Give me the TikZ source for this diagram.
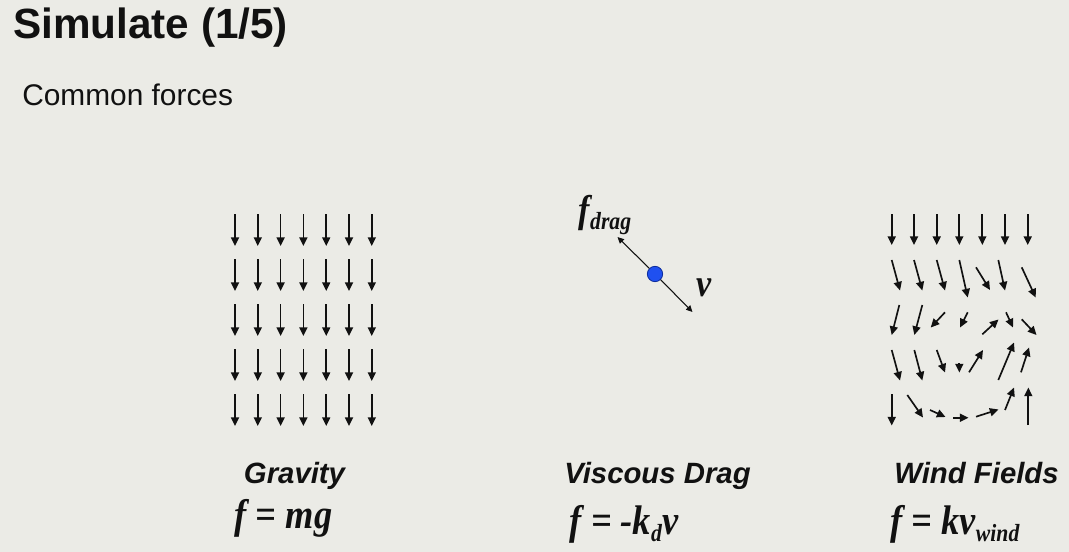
\documentclass[tikz,border=0pt]{standalone}
\usepackage{fontspec}
\setmainfont{Liberation Sans}
\newfontfamily\formulafont[FakeStretch=0.88]{Liberation Serif}
\usepackage{tikz}
\usetikzlibrary{
  arrows.meta,
  positioning
}
\definecolor{slideBg}{HTML}{EBEBE6}
\definecolor{slideInk}{HTML}{111111}
\definecolor{dragBlue}{HTML}{1F50F0}
\definecolor{dragRim}{HTML}{0D2D9C}

% lowered subscript, as on the slide
\newcommand{\lowsub}[1]{\raisebox{-5.5pt}{\fontsize{18.5}{18.5}\selectfont #1}}

\begin{document}
\begin{tikzpicture}[
  x=0.75pt, y=-0.75pt,
  heading/.style={
    font=\bfseries\fontsize{31.7}{36}\selectfont,
    text=slideInk,
    inner sep=0pt,
    anchor=base west
  },
  subheading/.style={heading, font=\fontsize{22.4}{26}\selectfont},
  caption/.style={
    font=\bfseries\itshape\fontsize{22}{26}\selectfont,
    text=slideInk,
    inner sep=0pt,
    anchor=base
  },
  formula/.style={caption, font=\formulafont\bfseries\itshape\fontsize{31}{34}\selectfont},
  vec/.style={
    -{Triangle[length=6.5pt,width=6pt]},
    line width=1.25pt,
    draw=slideInk
  },
  thinvec/.style={vec, -{Triangle[length=4.8pt,width=4.5pt]}, line width=0.8pt},
  particle/.style={
    circle,
    draw=dragRim,
    fill=dragBlue,
    line width=0.6pt,
    minimum size=11.5pt,
    inner sep=0pt
  }
]

\fill[slideBg] (0,0) rectangle (1069,552);

\node[heading] (title) at (13,39) {Simulate (1/5)};
\node[subheading] (intro) at (22,106) {Common forces};

% gravity: uniform field
\foreach \i in {0,...,6}
  \foreach \j in {0,...,4}
    \draw[vec] ({235+22.8*\i},{214+45*\j}) -- ++(0,32);

% viscous drag
\node[particle] (ball) at (655,274) {};
\coordinate (dragtip) at (617.5,237);
\coordinate (veltip) at (692.5,312);
\draw[thinvec] (ball) -- (dragtip);
\draw[thinvec] (ball) -- (veltip);
\node[formula, font=\formulafont\bfseries\itshape\fontsize{29}{32}\selectfont] (fdrag) at (605,222) {f\lowsub{drag}};
\node[formula, font=\formulafont\bfseries\itshape\fontsize{29}{32}\selectfont] (vel) at (704,296) {v};

% wind field
\foreach \a/\b/\c/\d in {
  891.7/214/891.7/245, 914/214/914/245, 936.7/214/936.7/245,
  959.3/214/959.3/245, 982.3/214/982.3/245, 1005/214/1005/245,
  1027.7/214/1027.7/245,
  891.7/260/900/290.5, 914/260/922.3/290.5, 936.7/260/945/290.5,
  959.3/260/967.7/297.5, 976/267.3/990/290, 998.3/260/1005/290.5,
  1021.7/267.3/1035.7/297.5,
  899.3/305/891.7/335, 922.3/305/914.3/335, 945/312.3/930.7/327.5,
  967.7/312.3/960/327.5, 982.3/334.3/998.5/319.5, 1006/312.3/1013/327.5,
  1021.7/319.3/1036.5/335,
  891.7/350/900/380.5, 914.3/350/922.3/380.5, 936.7/350/945/372.5,
  959.3/363/959.3/372.5, 969/372.3/983/350, 998.3/380/1014/342.5,
  1021/372.3/1029/347.5,
  891.7/394/891.7/425.5, 907.3/395/923/417.5, 930/410/945.5/417,
  953/417.7/968.5/417.7, 976/416.7/998.5/409.5, 1005/410/1014/387.5,
  1028.3/425/1028.3/387.5}
  \draw[vec] (\a,\b) -- (\c,\d);

% captions
\node[caption] (gravity) at (294.5,483) {Gravity};
\node[caption] (drag) at (657.5,483) {Viscous Drag};
\node[caption] (wind) at (976.5,483) {Wind Fields};

\node[formula] (fgrav) at (283.5,528) {f = mg};
\node[formula] (fvisc) at (624,534) {f = -k\lowsub{d}v};
\node[formula] (fwind) at (955,534) {f = kv\lowsub{wind}};

\end{tikzpicture}
\end{document}
